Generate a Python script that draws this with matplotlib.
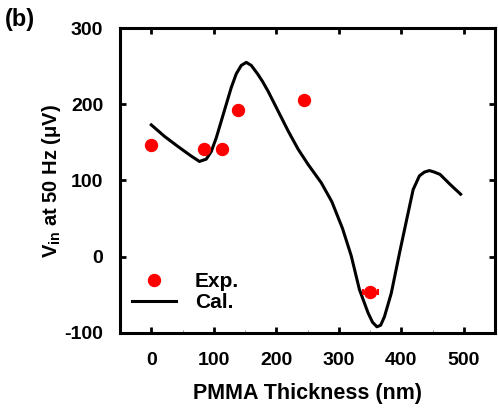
import matplotlib.pyplot as plt
from matplotlib.ticker import MultipleLocator

plt.rcParams['font.family'] = ['Liberation Sans', 'DejaVu Sans']
plt.rcParams['font.weight'] = 'bold'
plt.rcParams['mathtext.fontset'] = 'custom'
plt.rcParams['mathtext.rm'] = 'Liberation Sans:bold'
plt.rcParams['mathtext.it'] = 'Liberation Sans:bold'
plt.rcParams['axes.unicode_minus'] = False

# Experimental points
exp_x = [0, 84, 113, 139, 244, 350]
exp_y = [146, 141, 141, 192, 205, -47]
exp_xerr = [0, 0, 0, 0, 0, 12]

# Calculated curve
cal_x = [0, 21, 42, 64, 77, 88, 96, 104, 112, 120, 128, 136, 144, 152, 160, 170,
         178, 187, 203, 219, 235, 251, 272, 289, 306, 320, 333, 347, 354, 361,
         367, 373, 384, 397, 409, 419, 429, 437, 445, 453, 462, 478, 495]
cal_y = [173, 158, 145, 132, 125, 128, 138, 156, 178, 200, 222, 240, 251, 255, 251, 240,
         230, 217, 191, 165, 141, 121, 97, 72, 37, 1, -43, -74, -86, -92,
         -90, -79, -48, 4, 50, 88, 106, 111, 113, 111, 108, 95, 82]

fig = plt.figure(figsize=(4.98, 4.13), dpi=100)
ax = fig.add_axes([0.241, 0.194, 0.753, 0.738])

ax.errorbar(exp_x, exp_y, xerr=exp_xerr, fmt='none', ecolor='red',
            capsize=2.5, elinewidth=1.5, capthick=1.5, zorder=3)
ax.plot(exp_x, exp_y, 'o', color='red', ms=8.6, label='Exp.', zorder=4)
ax.plot(cal_x, cal_y, color='black', lw=2.2, label='Cal.', zorder=2,
        solid_joinstyle='round')

ax.set_xlim(-50, 550)
ax.set_ylim(-100, 300)
ax.set_xticks([0, 100, 200, 300, 400, 500])
ax.yaxis.set_major_locator(MultipleLocator(100))
ax.xaxis.set_minor_locator(MultipleLocator(50))

for s in ax.spines.values():
    s.set_linewidth(2.2)
ax.tick_params(which='major', direction='in', length=4, width=2, labelsize=14,
               top=True, right=True)
ax.tick_params(axis='x', which='major', pad=14)
ax.tick_params(axis='y', which='major', pad=12)
ax.tick_params(which='minor', direction='in', length=2, width=0.6, color='gray',
               top=False, right=False, left=False)
for lab in ax.get_xticklabels() + ax.get_yticklabels():
    lab.set_fontweight('bold')

ax.set_xlabel('PMMA Thickness (nm)', fontsize=15.5, fontweight='bold', labelpad=10)
ax.set_ylabel(r'V$_{\mathrm{in}}$ at 50 Hz ($\mathrm{\mu}$V)', fontsize=14.5,
              fontweight='bold')
ax.yaxis.set_label_coords(-0.152, 0.5)

ax.legend(loc='lower left', frameon=False, fontsize=15, handlelength=2.1,
          bbox_to_anchor=(-0.006, 0.02), borderaxespad=0.3, handletextpad=0.9,
          labelspacing=0.1)

fig.text(0.01, 0.952, '(b)', fontsize=17, fontweight='bold', va='center')

fig.savefig('out.png', dpi=100)
